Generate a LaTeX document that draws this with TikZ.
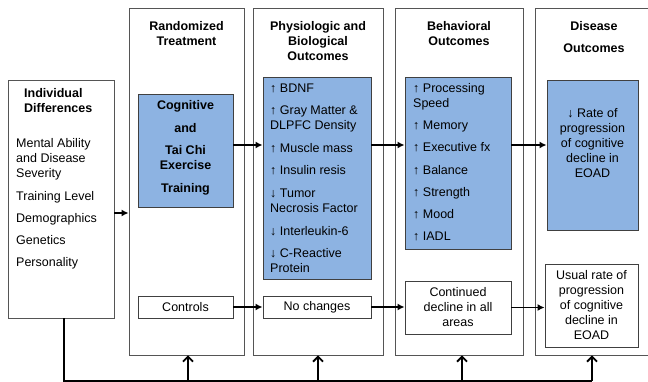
\documentclass[tikz,border=0pt]{standalone}
\usepackage{fontspec}
\setmainfont{Liberation Sans}
\usetikzlibrary{arrows.meta}
\definecolor{BoxClr}{RGB}{141,179,226}
\definecolor{FrameClr}{RGB}{85,85,85}

\begin{document}
\fontsize{12.5}{15}\selectfont
\begin{tikzpicture}[x=1pt,y=-1pt,
  frame/.style={draw=FrameClr,line width=0.9pt,inner sep=0pt},
  bluebox/.style={draw=black!75,fill=BoxClr,line width=0.9pt,inner sep=0pt},
  whitebox/.style={draw=black!75,fill=white,line width=0.9pt,align=center,inner sep=0pt},
  title/.style={font=\bfseries,align=center,inner sep=0pt,anchor=north},
  items/.style={align=left,inner sep=0pt,anchor=north west},
  arr/.style={-{Latex[length=7pt,width=7pt]},line width=1.6pt},
  uparr/.style={-{Straight Barb[length=5pt,width=10pt]},line width=1.8pt}]

\path[use as bounding box,clip] (0,0) rectangle (648,382);

% columns
\node[frame,minimum width=106,minimum height=238] (ind) at (61,199) {};
\node[frame,minimum width=115,minimum height=347] (rt) at (186.5,181.5) {};
\node[frame,minimum width=130,minimum height=347] (pc) at (318,181.5) {};
\node[frame,minimum width=128,minimum height=347] (bc) at (459,181.5) {};
\node[frame,minimum width=118,minimum height=347] (dc) at (594,181.5) {};

% column titles
\node[items,font=\bfseries] (indT) at (24,88.5) {Individual\\Differences};
\node[title] (rtT) at (186.5,21.5) {Randomized\\Treatment};
\node[title] (pcT) at (318,21.5) {Physiologic and\\Biological\\Outcomes};
\node[title] (bcT) at (459,21.5) {Behavioral\\Outcomes};
\node[title] (dcT) at (594,21.5) {Disease\\[7pt]Outcomes};

\node[items] (indL) at (16,138.5) {Mental Ability\\and Disease\\Severity\\[8pt]Training Level\\[7pt]Demographics\\[7pt]Genetics\\[7pt]Personality};

% treatment arm
\node[bluebox,minimum width=95,minimum height=113] (cog) at (185.5,150.5) {};
\node[title] (cogT) at (185.5,100.5) {Cognitive\\[8pt]and\\[7pt]Tai Chi\\Exercise\\[8pt]Training};
\node[bluebox,minimum width=108,minimum height=202] (pb) at (317,178) {};
\node[items] (pbL) at (270,83.5) {↑ BDNF\\[7pt]↑ Gray Matter \&\\DLPFC Density\\[8pt]↑ Muscle mass\\[7pt]↑ Insulin resis\\[8pt]↓ Tumor\\Necrosis Factor\\[8pt]↓ Interleukin-6\\[7pt]↓ C-Reactive\\Protein};
\node[bluebox,minimum width=106,minimum height=172] (bb) at (458,163) {};
\node[items] (bbL) at (413,83.5) {↑ Processing\\Speed\\[7pt]↑ Memory\\[7pt]↑ Executive fx\\[8pt]↑ Balance\\[7pt]↑ Strength\\[7pt]↑ Mood\\[7pt]↑ IADL};
\node[bluebox,minimum width=91,minimum height=150] (db) at (592.5,155) {};
\node[align=center,inner sep=0pt] (dbL) at (592.5,143.5) {↓ Rate of\\progression\\of cognitive\\decline in\\EOAD};

% control arm
\node[whitebox,minimum width=95,minimum height=22] (ctl) at (185.5,307) {Controls};
\node[whitebox,minimum width=108,minimum height=22] (noch) at (317,307) {No changes};
\node[whitebox,minimum width=106,minimum height=53] (cont) at (458,307.5) {Continued\\decline in all\\areas};
\node[whitebox,minimum width=93,minimum height=83] (usual) at (591.5,305.5) {Usual rate of\\progression\\of cognitive\\decline in\\EOAD};

% arrows
\draw[arr] ([yshift=-14pt]ind.east) -- ([yshift=-14pt]ind.east -| rt.west);
\draw[arr] ([yshift=5.5pt]cog.east) -- ([yshift=5.5pt]cog.east -| pb.west);
\draw[arr] ([yshift=33pt]pb.east) -- ([yshift=33pt]pb.east -| bb.west);
\draw[arr] ([yshift=18pt]bb.east) -- ([yshift=18pt]bb.east -| db.west);
\draw[arr] (ctl.east) -- (noch.west);
\draw[arr] (noch.east) -- (noch.east -| cont.west);
\draw[arr] (cont.east) -- (cont.east -| usual.west);

% feedback line
\coordinate (fb) at (0,381);
\draw[line width=1.8pt] ([xshift=3pt]ind.south) |- ([xshift=-2pt]dc.south |- fb);
\foreach \c/\s in {rt/1.5,pc/0,bc/3,dc/-2}
  \draw[uparr] ([xshift=\s pt]\c.south |- fb) -- ([xshift=\s pt]\c.south);

\end{tikzpicture}
\end{document}
